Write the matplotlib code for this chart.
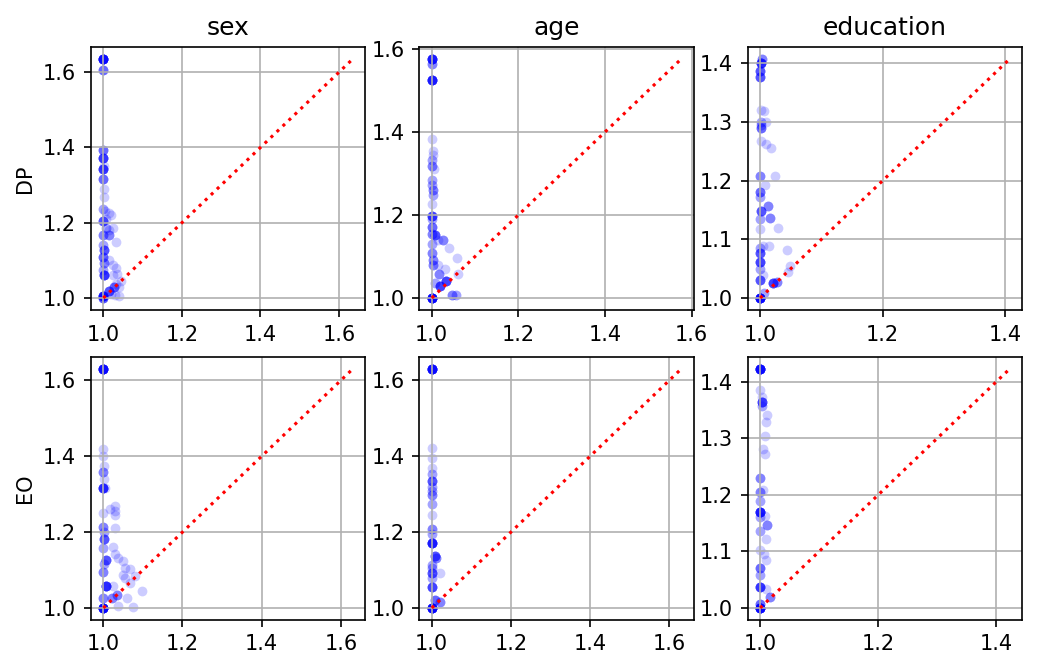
import matplotlib
matplotlib.use("Agg")
import matplotlib.pyplot as plt
import numpy as np

metrics = ["DP", "EO"]
attributes = ["sex", "age", "education"]

# each point: x, y and how many runs landed on it (overlaps make the dots darker)
dp_sex_x = [1.0, 1.0, 1.0, 1.0, 1.0, 1.002, 1.0, 1.002, 1.003, 1.0, 1.005, 1.015, 1.02, 1.0, 1.008,
            1.006, 1.015, 1.025, 1.0, 1.015, 1.032, 1.0, 1.003, 1.0, 1.003, 1.025, 1.032, 1.015, 1.0,
            1.003, 1.025, 1.035, 1.032, 1.015, 1.028, 1.045, 1.04, 1.02, 1.0, 1.0, 1.041, 1.03]
dp_sex_y = [1.635, 1.607, 1.393, 1.371, 1.344, 1.35, 1.316, 1.29, 1.268, 1.237, 1.232, 1.225, 1.22, 1.205, 1.21,
            1.186, 1.18, 1.185, 1.168, 1.168, 1.149, 1.14, 1.127, 1.109, 1.092, 1.088, 1.08, 1.1, 1.075,
            1.06, 1.062, 1.065, 1.038, 1.019, 1.028, 1.045, 1.03, 1.01, 1.005, 1.0, 1.005, 1.008]
dp_sex_n = [14, 4, 4, 7, 7, 1, 4, 1, 1, 2, 1, 1, 1, 5, 1,
            2, 1, 1, 3, 3, 1, 2, 5, 4, 3, 1, 1, 1, 2,
            7, 1, 1, 1, 5, 4, 1, 1, 1, 10, 5, 1, 1]

dp_age_x = [1.001, 1.001, 1.0, 1.0, 1.003, 1.002, 1.0, 1.0, 1.005, 1.0, 1.001, 1.002, 1.004, 1.0,
            1.0, 1.0, 1.0, 1.007, 1.0, 1.015, 1.025, 1.0, 1.04, 1.0, 1.003, 1.003, 1.015, 1.058,
            1.03, 1.017, 1.061, 1.034, 1.019, 1.007, 1.046, 1.056, 1.0]
dp_age_y = [1.576, 1.565, 1.526, 1.383, 1.354, 1.345, 1.332, 1.317, 1.312, 1.285, 1.272, 1.26, 1.248, 1.227,
            1.198, 1.19, 1.171, 1.153, 1.155, 1.139, 1.139, 1.129, 1.12, 1.108, 1.092, 1.08, 1.08, 1.096,
            1.07, 1.057, 1.059, 1.04, 1.029, 1.035, 1.007, 1.007, 1.0]
dp_age_n = [10, 3, 10, 1, 1, 1, 2, 3, 1, 2, 2, 3, 2, 1,
            6, 2, 4, 5, 3, 1, 3, 2, 1, 3, 3, 3, 1, 1,
            1, 3, 1, 6, 6, 2, 3, 2, 15]

dp_edu_x = [1.003, 1.002, 1.0, 1.0, 1.001, 1.006, 1.002, 1.01, 1.002, 1.002, 1.002, 1.01, 1.018,
            1.0, 1.024, 1.008, 1.0, 1.0, 1.013, 1.001, 1.016, 1.0, 1.029, 1.0, 1.005, 1.014, 1.0,
            1.0, 1.044, 1.0, 1.0, 1.048, 1.046, 1.005, 1.0, 1.021, 1.028, 1.007, 1.0]
dp_edu_y = [1.407, 1.401, 1.387, 1.376, 1.32, 1.318, 1.3, 1.3, 1.295, 1.289, 1.267, 1.262, 1.256,
            1.207, 1.207, 1.193, 1.181, 1.172, 1.156, 1.149, 1.137, 1.135, 1.12, 1.117, 1.089, 1.089, 1.085,
            1.077, 1.081, 1.061, 1.05, 1.055, 1.045, 1.04, 1.03, 1.026, 1.028, 1.009, 1.0]
dp_edu_n = [3, 8, 5, 5, 1, 1, 2, 1, 2, 4, 1, 1, 1,
            3, 1, 1, 4, 2, 3, 5, 3, 2, 1, 1, 1, 1, 2,
            5, 1, 6, 2, 1, 1, 1, 5, 6, 3, 2, 15]

eo_sex_x = [1.0, 1.0, 1.0, 1.001, 1.0, 1.002, 1.0, 1.004, 1.029, 1.017, 1.029, 1.029, 1.0, 1.0,
            1.001, 1.029, 1.001, 1.0, 1.025, 1.029, 1.038, 1.007, 1.001, 1.05, 1.055, 1.067, 1.0,
            1.05, 1.055, 1.08, 1.007, 1.025, 1.097, 1.059, 1.034, 1.021, 1.067, 1.038, 1.076, 1.0, 1.0]
eo_sex_y = [1.63, 1.419, 1.40, 1.374, 1.359, 1.34, 1.316, 1.315, 1.27, 1.26, 1.255, 1.244, 1.25, 1.213,
            1.2, 1.211, 1.181, 1.159, 1.161, 1.141, 1.132, 1.126, 1.115, 1.123, 1.105, 1.102, 1.096,
            1.087, 1.078, 1.083, 1.057, 1.057, 1.044, 1.027, 1.034, 1.026, 1.065, 1.006, 1.002, 1.0, 1.025]
eo_sex_n = [14, 1, 1, 1, 3, 1, 8, 1, 1, 1, 1, 1, 1, 3,
            2, 1, 5, 2, 1, 1, 1, 5, 2, 1, 1, 1, 3,
            1, 1, 1, 8, 1, 1, 1, 3, 3, 1, 1, 1, 15, 3]

eo_age_x = [1.0, 1.0, 1.0, 1.0, 1.0, 1.0, 1.0, 1.0, 1.0, 1.0, 1.0, 1.0, 1.0,
            1.0, 1.008, 1.011, 1.0, 1.0, 1.0, 1.0, 1.02, 1.0, 1.008, 1.02, 1.0]
eo_age_y = [1.63, 1.421, 1.395, 1.37, 1.353, 1.335, 1.32, 1.307, 1.298, 1.275, 1.246, 1.208, 1.195,
            1.17, 1.136, 1.131, 1.114, 1.105, 1.092, 1.078, 1.092, 1.056, 1.022, 1.015, 1.0]
eo_age_n = [14, 1, 1, 1, 2, 5, 2, 2, 3, 2, 1, 3, 2,
            10, 5, 3, 2, 2, 5, 2, 1, 6, 4, 3, 15]

eo_edu_x = [1.0, 1.0, 1.003, 1.003, 1.003, 1.012, 1.01, 1.008, 1.004, 1.008, 1.0, 1.004, 1.0, 1.0,
            1.0, 1.0, 1.008, 1.011, 1.0, 1.01, 1.0, 1.007, 1.01, 1.0, 1.0, 1.0, 1.01, 1.017, 1.0, 1.0]
eo_edu_y = [1.423, 1.385, 1.374, 1.364, 1.358, 1.341, 1.329, 1.305, 1.281, 1.273, 1.23, 1.209, 1.205, 1.19,
            1.17, 1.161, 1.163, 1.147, 1.137, 1.122, 1.102, 1.095, 1.085, 1.07, 1.058, 1.037, 1.034, 1.019, 1.007, 1.0]
eo_edu_n = [14, 1, 1, 6, 2, 1, 1, 1, 1, 1, 3, 1, 3, 2,
            10, 2, 1, 3, 2, 1, 1, 1, 1, 4, 2, 7, 1, 3, 4, 15]

panels = [
    [(dp_sex_x, dp_sex_y, dp_sex_n), (dp_age_x, dp_age_y, dp_age_n), (dp_edu_x, dp_edu_y, dp_edu_n)],
    [(eo_sex_x, eo_sex_y, eo_sex_n), (eo_age_x, eo_age_y, eo_age_n), (eo_edu_x, eo_edu_y, eo_edu_n)],
]

fig, axes = plt.subplots(2, 3, figsize=(1044 / 150, 663 / 150), dpi=150)

for i, metric in enumerate(metrics):
    for j, attr in enumerate(attributes):
        ax = axes[i, j]
        x, y, n = panels[i][j]
        xs = np.repeat(x, n)
        ys = np.repeat(y, n)
        ax.scatter(xs, ys, s=22, color="blue", alpha=0.2, linewidths=0)
        lo = min(xs.min(), ys.min())
        hi = max(xs.max(), ys.max())
        ax.plot([lo, hi], [lo, hi], "r:", linewidth=1.5)
        ax.grid(True)
        if i == 0:
            ax.set_title(attr)
        if j == 0:
            ax.set_ylabel(metric)

plt.subplots_adjust(left=0.087, right=0.979, top=0.929, bottom=0.065, wspace=0.197, hspace=0.179)
plt.savefig("out.png")
plt.close()
